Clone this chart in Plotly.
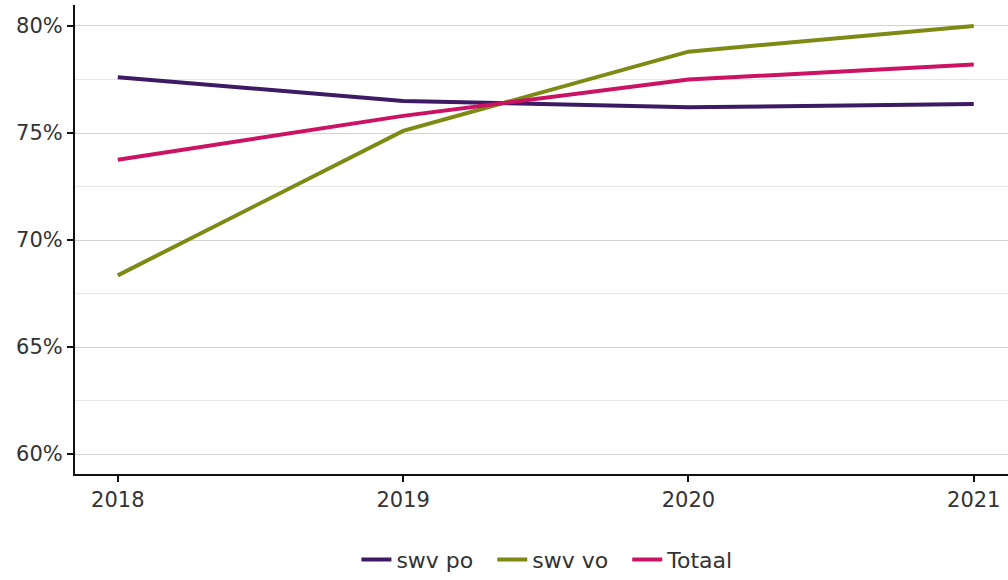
import plotly.graph_objects as go

years = [2018, 2019, 2020, 2021]
swv_po = [77.6, 76.5, 76.2, 76.35]
swv_vo = [68.35, 75.1, 78.8, 80.0]
totaal = [73.75, 75.8, 77.5, 78.2]
series_names = ["swv po", "swv vo", "Totaal"]
colors = ["#3d1a63", "#7d8a13", "#cc1262"]
y_ticks = [60, 65, 70, 75, 80]
y_tick_labels = ["60%", "65%", "70%", "75%", "80%"]

fig = go.Figure()
for name, vals, col in zip(series_names, [swv_po, swv_vo, totaal], colors):
    fig.add_trace(go.Scatter(x=years, y=vals, mode="lines", name=name + "  ",
                             line=dict(color=col, width=4)))

font = dict(family="DejaVu Sans, Verdana, sans-serif", size=21, color="#333333")
fig.update_layout(
    width=1008, height=580,
    margin=dict(l=75, r=0, t=5, b=106),
    plot_bgcolor="white", paper_bgcolor="white",
    font=font,
    showlegend=True,
    legend=dict(orientation="h", xref="container", yref="container",
                x=0.55, xanchor="center", y=0.035, yanchor="middle",
                font=dict(family="DejaVu Sans, Verdana, sans-serif", size=22, color="#333333")),
    xaxis=dict(range=[2017.85, 2021.12], tickvals=years, ticktext=[str(y) for y in years],
               showgrid=False, showline=True, linecolor="#111111", linewidth=2,
               ticks="outside", ticklen=6, tickcolor="#111111", tickwidth=1.5, zeroline=False,
               tickfont=font, automargin=False),
    yaxis=dict(range=[59.07, 80.98], tickvals=y_ticks, ticktext=y_tick_labels,
               showgrid=True, gridcolor="#d2d2d2", gridwidth=1.2,
               minor=dict(dtick=2.5, tick0=60, showgrid=True, gridcolor="#e6e6e6", gridwidth=1),
               showline=True, linecolor="#111111", linewidth=2,
               ticks="outside", ticklen=6, tickcolor="#111111", tickwidth=1.5, zeroline=False,
               tickfont=font, automargin=False),
)
fig.write_html("out.html", config={"displayModeBar": False},
               post_script="document.body.style.margin='0';")
